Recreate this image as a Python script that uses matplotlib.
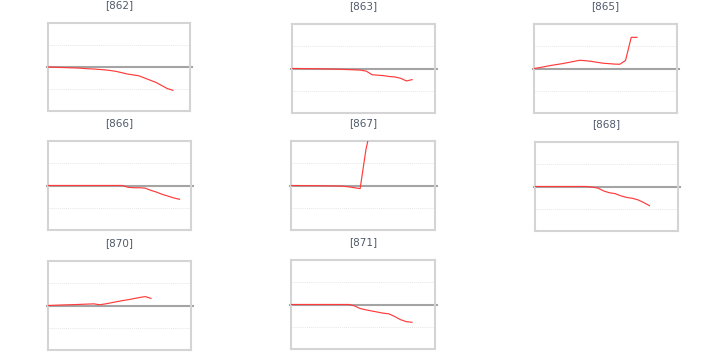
import matplotlib
matplotlib.use("Agg")
import matplotlib.pyplot as plt

titles = ["[862]", "[863]", "[865]", "[866]", "[867]", "[868]", "[870]", "[871]"]

s862 = [0, -0.005, -0.01, -0.013, -0.018, -0.022, -0.03, -0.04, -0.045, -0.055, -0.065,
        -0.08, -0.10, -0.13, -0.16, -0.18, -0.20, -0.25, -0.30, -0.35, -0.42, -0.49, -0.53]
s863 = [0, 0, -0.002, -0.004, -0.006, -0.008, -0.01, -0.013, -0.016, -0.02, -0.025,
        -0.03, -0.037, -0.06, -0.14, -0.15, -0.16, -0.18, -0.19, -0.22, -0.28, -0.25]
s865 = [0, 0.02, 0.045, 0.07, 0.09, 0.11, 0.135, 0.16, 0.185, 0.175, 0.16,
        0.14, 0.12, 0.11, 0.10, 0.095, 0.18, 0.70, 0.70]
s866 = [0, 0, 0, 0, 0, 0, 0, 0, 0, 0, 0, 0, 0, 0,
        -0.04, -0.05, -0.05, -0.06, -0.11, -0.15, -0.20, -0.24, -0.28, -0.31]
s867 = [0, -0.001, -0.002, -0.003, -0.004, -0.005, -0.007, -0.009, -0.012, -0.015,
        -0.03, -0.05, -0.07, 0.80, 1.40]
s868 = [0, 0, 0, 0, 0, 0, 0, 0, 0, 0, -0.015, -0.035, -0.10, -0.14, -0.16,
        -0.21, -0.245, -0.265, -0.30, -0.36, -0.43]
s870 = [0, 0.005, 0.01, 0.014, 0.018, 0.022, 0.027, 0.032, 0.037, 0.017, 0.035,
        0.06, 0.085, 0.11, 0.13, 0.155, 0.18, 0.20, 0.16]
s871 = [0, 0, 0, 0, 0, 0, 0, 0, 0, 0, 0, -0.03, -0.09, -0.12, -0.145, -0.17,
        -0.195, -0.21, -0.27, -0.34, -0.385, -0.40]

series = [s862, s863, s865, s866, s867, s868, s870, s871]

W, H = 727, 352
# axes boxes in pixels: left, top, right, bottom
boxes = [
    (48, 23, 190, 111),
    (292, 24, 435, 113),
    (534, 24, 677, 113),
    (48, 141, 191, 230),
    (291, 141, 435, 230),
    (535, 142, 678, 231),
    (48, 261, 191, 350),
    (291, 260, 435, 349),
]

fig = plt.figure(figsize=(W / 100, H / 100), dpi=100)
fig.patch.set_facecolor("white")

for title, vals, (l, t, r, b) in zip(titles, series, boxes):
    ax = fig.add_axes([l / W, 1 - b / H, (r - l) / W, (b - t) / H])
    ax.set_xlim(0, 25)
    ax.set_ylim(-1, 1)
    ax.set_xticks([])
    ax.set_yticks([])
    for sp in ax.spines.values():
        sp.set_color("#d4d4d4")
        sp.set_linewidth(1.5)
    for g in (-0.5, 0.5):
        ax.axhline(g, color="#e6e6e6", lw=0.7, ls=(0, (1, 1)), zorder=1)
    ax.plot([-0.2, 25.3], [0, 0], color="#a4a4a4", lw=1.5, zorder=2, clip_on=False)
    ax.plot(range(len(vals)), vals, color="#ff3b3b", lw=0.85, zorder=3)
    ax.text(0.5, 1 + 17.5 / (b - t), title, transform=ax.transAxes,
            ha="center", va="center", fontsize=7.5, color="#505a6a")

fig.savefig("out.png", dpi=100)
